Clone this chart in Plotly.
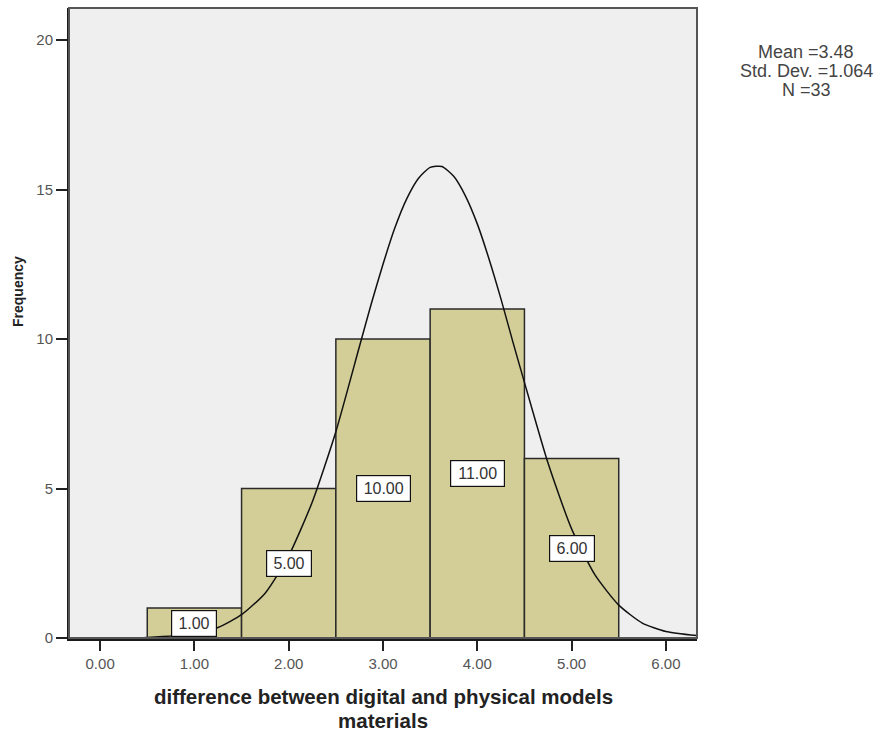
import plotly.graph_objects as go

# Histogram bins (midpoints) and frequencies
bin_mids = [1.0, 2.0, 3.0, 4.0, 5.0]
frequencies = [1, 5, 10, 11, 6]
bar_labels = ["1.00", "5.00", "10.00", "11.00", "6.00"]

# Fitted normal curve, sampled points
curve_x = [-0.33, 0.5, 1.0, 1.25, 1.5, 1.75, 2.0, 2.25, 2.5, 2.75, 2.875, 3.0, 3.125,
           3.25, 3.375, 3.5, 3.625, 3.75, 3.875, 4.0, 4.125, 4.25, 4.375, 4.5, 4.75,
           5.0, 5.25, 5.5, 5.75, 6.0, 6.33]
curve_y = [0.0, 0.02, 0.15, 0.35, 0.78, 1.5, 2.75, 4.55, 6.9, 9.75, 11.17, 12.5, 13.71,
           14.68, 15.37, 15.74, 15.77, 15.44, 14.78, 13.85, 12.67, 11.35, 9.93, 8.55, 5.85,
           3.65, 2.1, 1.1, 0.5, 0.22, 0.08]

x_tick_vals = [0, 1, 2, 3, 4, 5, 6]
x_tick_text = ["0.00", "1.00", "2.00", "3.00", "4.00", "5.00", "6.00"]
y_tick_vals = [0, 5, 10, 15, 20]

stats_lines = ["Mean =3.48", "Std. Dev. =1.064", "N =33"]
x_title_lines = ["difference between digital and physical models", "materials"]
y_title = "Frequency"

FONT = "Liberation Sans, Arial, sans-serif"

fig = go.Figure()

fig.add_trace(go.Bar(
    x=bin_mids, y=frequencies, width=1,
    marker=dict(color="rgb(211,206,151)", line=dict(color="#2b2b2b", width=1.5)),
    hoverinfo="skip", showlegend=False,
))

fig.add_trace(go.Scatter(
    x=curve_x, y=curve_y, mode="lines",
    line=dict(color="#111111", width=1.5, shape="spline", smoothing=0.6),
    hoverinfo="skip", showlegend=False,
))

annotations = []
# boxed value labels at half bar height
for xm, f, lab in zip(bin_mids, frequencies, bar_labels):
    annotations.append(dict(
        x=xm, y=f / 2, xref="x", yref="y", text=lab, showarrow=False,
        font=dict(family=FONT, size=16, color="#333333"),
        bgcolor="white", bordercolor="#111111", borderwidth=1.2, borderpad=3,
        width=9.4 * len(lab), height=19, align="center",
    ))

# summary statistics
for i, line in enumerate(stats_lines):
    annotations.append(dict(
        x=1.1736, y=1, xref="paper", yref="paper", yshift=-44 - 19 * i,
        text=line, showarrow=False, xanchor="center", yanchor="middle",
        font=dict(family=FONT, size=18, color="#444444"),
    ))

# x-axis title (two lines)
for i, line in enumerate(x_title_lines):
    annotations.append(dict(
        x=0.5, y=0, xref="paper", yref="paper", yshift=-58 - 24 * i,
        text="<b>" + line + "</b>", showarrow=False, xanchor="center", yanchor="middle",
        font=dict(family=FONT, size=20.5, color="#222222"),
    ))

# y-axis title
annotations.append(dict(
    x=0, y=1, xref="paper", yref="paper", xshift=-51, yshift=-(292 - 8),
    text="<b>" + y_title + "</b>", showarrow=False, textangle=-90,
    xanchor="center", yanchor="middle",
    font=dict(family=FONT, size=14, color="#222222"),
))

fig.update_layout(
    width=885, height=733,
    margin=dict(l=69, r=188, t=8, b=95),
    paper_bgcolor="white", plot_bgcolor="rgb(239,239,239)",
    annotations=annotations,
    shapes=[dict(type="rect", xref="paper", yref="paper", x0=0, y0=0, x1=1, y1=1,
                 line=dict(color="#555555", width=2), layer="above")],
    xaxis=dict(
        range=[-0.33, 6.33], tickvals=x_tick_vals, ticktext=x_tick_text,
        showgrid=False, zeroline=False, showline=True, linecolor="#1a1a1a", linewidth=2.5,
        ticks="outside", ticklen=10, tickwidth=1.5, tickcolor="#222222",
        tickfont=dict(family=FONT, size=15, color="#555555"),
    ),
    yaxis=dict(
        range=[0, 21.07], tickvals=y_tick_vals,
        showgrid=False, zeroline=False, showline=True, linecolor="#1a1a1a", linewidth=2,
        ticks="outside", ticklen=11, tickwidth=1.5, tickcolor="#222222",
        tickfont=dict(family=FONT, size=15, color="#555555"),
    ),
)

fig.write_html("out.html")
